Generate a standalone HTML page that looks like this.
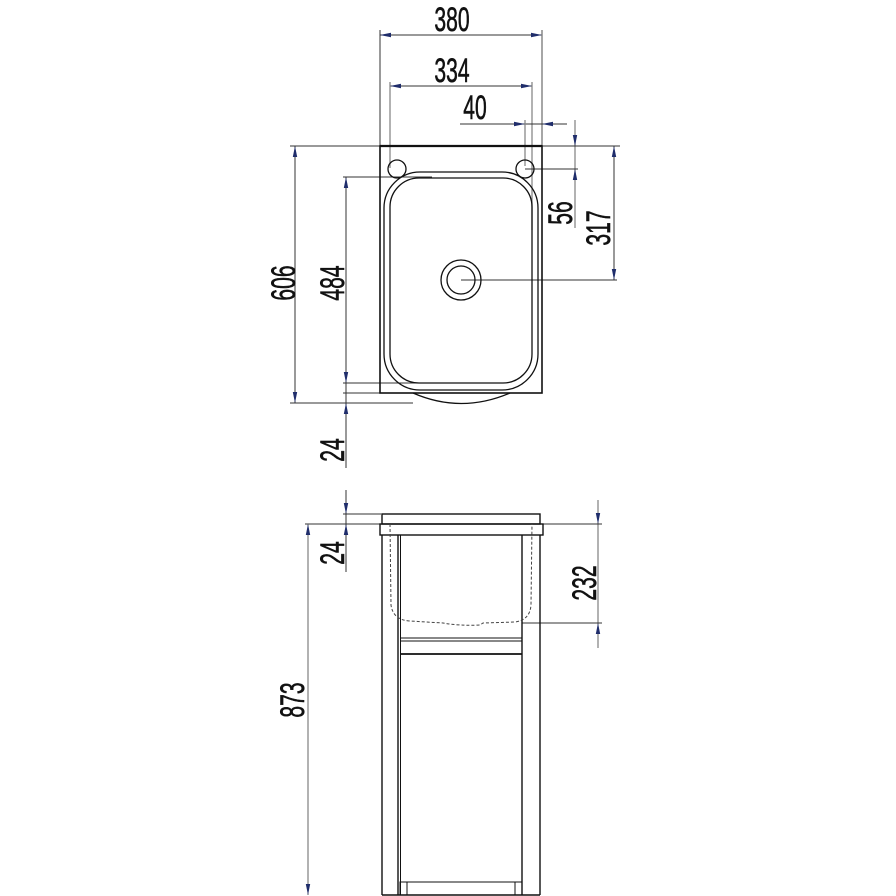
<!DOCTYPE html>
<html><head><meta charset="utf-8"><style>
html,body{margin:0;padding:0;background:#fff;}
svg{display:block;}
text{font-family:"Liberation Sans",sans-serif;font-size:34px;fill:#111;stroke:#111;stroke-width:0.6;}
</style></head><body>
<svg width="896" height="896" viewBox="0 0 896 896" xmlns="http://www.w3.org/2000/svg">
<defs>
<path id="ad" d="M0,0 L-2.2,-11 L2.2,-11 Z" fill="#1f2d6b"/>
</defs>
<g stroke="#333" stroke-width="1" fill="none">
<line x1="380" y1="35" x2="542" y2="35"/>
<line x1="380" y1="30" x2="380" y2="146"/>
<line x1="542" y1="30" x2="542" y2="146" stroke="#888" stroke-width="1.5"/>
<line x1="390" y1="86" x2="532" y2="86"/>
<line x1="390" y1="82" x2="390" y2="168" stroke="#888" stroke-width="1.3"/>
<line x1="532" y1="82" x2="532" y2="230" stroke="#888" stroke-width="1.3"/>
<line x1="460" y1="124" x2="567" y2="124"/>
<line x1="525" y1="120" x2="525" y2="166" stroke="#888" stroke-width="1.3"/>
<line x1="575" y1="120" x2="575" y2="228" stroke="#888" stroke-width="1.3"/>
<line x1="542" y1="146" x2="620" y2="146"/>
<line x1="525" y1="169" x2="578" y2="169"/>
<line x1="614" y1="146" x2="614" y2="280"/>
<line x1="461" y1="280" x2="617" y2="280"/>
<line x1="295" y1="146" x2="295" y2="403"/>
<line x1="290" y1="146" x2="380" y2="146"/>
<line x1="290" y1="403" x2="413" y2="403"/>
<line x1="346" y1="177" x2="346" y2="468"/>
<line x1="343" y1="177" x2="432" y2="177"/>
<line x1="343" y1="383" x2="430" y2="383"/>
<line x1="343" y1="393" x2="380" y2="393"/>
<rect x="380" y="146" width="162" height="247" stroke="#111" stroke-width="1.6"/>
<line x1="380" y1="146" x2="542" y2="146" stroke="#111" stroke-width="2.2"/>
<path d="M413,393 Q461,414 510,393" stroke="#111" stroke-width="1.3"/>
<circle cx="397" cy="169" r="9" stroke="#111" stroke-width="1.3"/>
<circle cx="525" cy="169" r="9" stroke="#111" stroke-width="1.3"/>
<rect x="384" y="172" width="154" height="218" rx="36" stroke="#111" stroke-width="1.3"/>
<rect x="390" y="178" width="142" height="205" rx="29" stroke="#111" stroke-width="1.3"/>
<circle cx="461" cy="280" r="20" stroke="#111" stroke-width="1.3"/>
<circle cx="461" cy="280" r="14" stroke="#111" stroke-width="1.3"/>
<line x1="346" y1="490" x2="346" y2="572"/>
<line x1="343" y1="514" x2="381" y2="514"/>
<line x1="305" y1="524" x2="381" y2="524"/>
<line x1="308" y1="524" x2="308" y2="895" stroke="#666"/>
<line x1="598" y1="500" x2="598" y2="648" stroke="#666"/>
<line x1="542" y1="524" x2="602" y2="524"/>
<line x1="522" y1="623" x2="602" y2="623"/>
<rect x="382" y="514" width="158" height="10" stroke="#111" stroke-width="1.4"/>
<rect x="380" y="524" width="163" height="11" stroke="#111" stroke-width="1.4"/>
<line x1="382" y1="535" x2="382" y2="895" stroke="#111" stroke-width="1.4"/>
<line x1="540" y1="535" x2="540" y2="895" stroke="#111" stroke-width="1.4"/>
<line x1="398" y1="535" x2="398" y2="895" stroke="#111" stroke-width="1.4"/>
<line x1="400.5" y1="535" x2="400.5" y2="895" stroke="#111" stroke-width="1"/>
<line x1="522" y1="535" x2="522" y2="895" stroke="#111" stroke-width="1.4"/>
<line x1="382" y1="895" x2="540" y2="895" stroke="#111" stroke-width="1.6"/>
<line x1="400" y1="638" x2="522" y2="638" stroke="#111"/>
<line x1="400" y1="641" x2="522" y2="641" stroke="#111"/>
<line x1="400" y1="654" x2="522" y2="654" stroke="#111" stroke-width="1.8"/>
<line x1="400" y1="882" x2="522" y2="882" stroke="#111"/>
<rect x="400" y="882" width="7" height="13" stroke="#111"/>
<rect x="515" y="882" width="7" height="13" stroke="#111"/>
<path d="M390,524 L391,605 Q393,620 410,621 L443,623 Q460,626 480,625 L483,623 L515,622 Q530,620 531,605 L532,524" stroke="#444" stroke-dasharray="3,2"/>
</g>
<g>
<use href="#ad" transform="translate(380,35) rotate(90)"/>
<use href="#ad" transform="translate(542,35) rotate(-90)"/>
<use href="#ad" transform="translate(390,86) rotate(90)"/>
<use href="#ad" transform="translate(532,86) rotate(-90)"/>
<use href="#ad" transform="translate(525,124) rotate(-90)"/>
<use href="#ad" transform="translate(542,124) rotate(90)"/>
<use href="#ad" transform="translate(575,146) rotate(0)"/>
<use href="#ad" transform="translate(575,169) rotate(180)"/>
<use href="#ad" transform="translate(614,146) rotate(180)"/>
<use href="#ad" transform="translate(614,280) rotate(0)"/>
<use href="#ad" transform="translate(295,146) rotate(180)"/>
<use href="#ad" transform="translate(295,403) rotate(0)"/>
<use href="#ad" transform="translate(346,177) rotate(180)"/>
<use href="#ad" transform="translate(346,383) rotate(0)"/>
<use href="#ad" transform="translate(346,403) rotate(180)"/>
<use href="#ad" transform="translate(346,514) rotate(0)"/>
<use href="#ad" transform="translate(346,524) rotate(180)"/>
<use href="#ad" transform="translate(308,524) rotate(180)"/>
<use href="#ad" transform="translate(308,895) rotate(0)"/>
<use href="#ad" transform="translate(598,524) rotate(0)"/>
<use href="#ad" transform="translate(598,623) rotate(180)"/>
</g>
<g text-anchor="middle">
<text transform="translate(452,31) scale(0.62,1)">380</text>
<text transform="translate(452,82) scale(0.62,1)">334</text>
<text transform="translate(475,119) scale(0.62,1)">40</text>
<text transform="translate(572,213) rotate(-90) scale(0.62,1)">56</text>
<text transform="translate(610,228) rotate(-90) scale(0.62,1)">317</text>
<text transform="translate(295,283) rotate(-90) scale(0.62,1)">606</text>
<text transform="translate(344,283) rotate(-90) scale(0.62,1)">484</text>
<text transform="translate(344,450) rotate(-90) scale(0.62,1)">24</text>
<text transform="translate(344,553) rotate(-90) scale(0.62,1)">24</text>
<text transform="translate(304,700) rotate(-90) scale(0.62,1)">873</text>
<text transform="translate(596,583) rotate(-90) scale(0.62,1)">232</text>
</g>
</svg>
</body></html>
